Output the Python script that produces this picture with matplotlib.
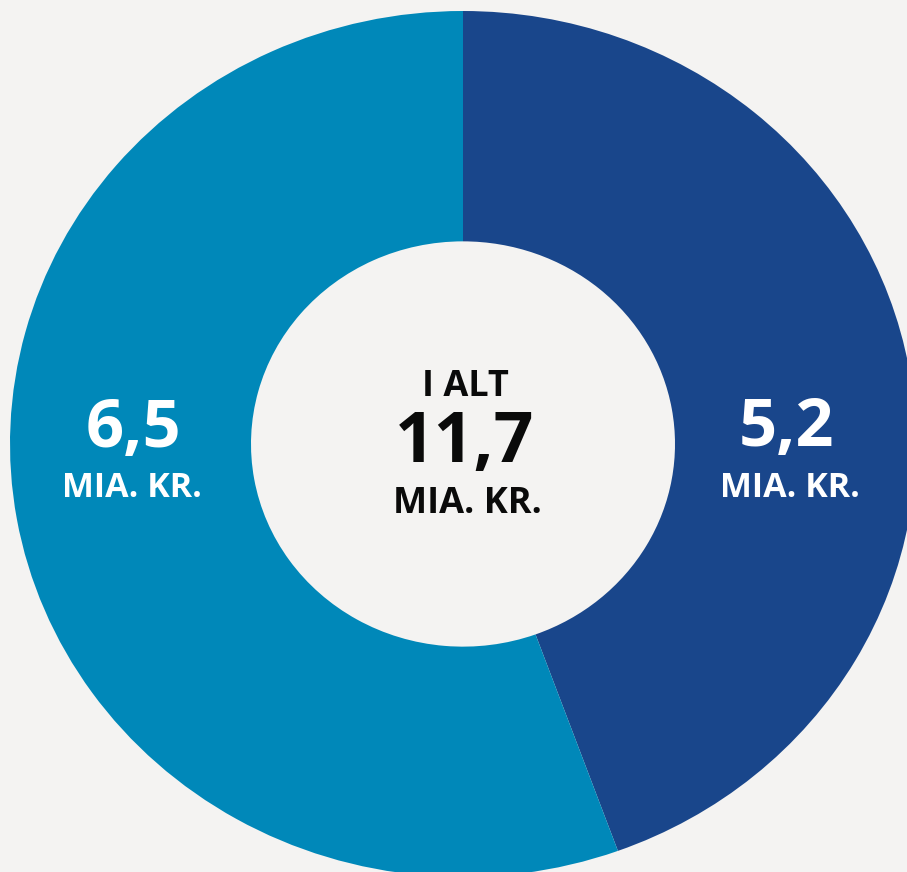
import matplotlib
matplotlib.use("Agg")
import matplotlib.pyplot as plt

# Data
categories = ["Del A", "Del B"]
values = [5.2, 6.5]
value_labels = ["5,2", "6,5"]
unit_label = "MIA. KR."
total_title = "I ALT"
total_label = "11,7"

colors = ["#19468B", "#0088B9"]
bg = "#F4F3F2"

W, H = 907, 872
fig = plt.figure(figsize=(W / 100, H / 100), dpi=100, facecolor=bg)
ax = fig.add_axes([0, 0, 1, 1])
ax.set_facecolor(bg)

ax.pie(values, colors=colors, startangle=90, counterclock=False,
       wedgeprops=dict(width=0.532, linewidth=0))

# layout: outer radius 453 px horizontally, 433 px vertically, centre at (463, 444)
cx, cy, rx, ry = 463, 444, 453, 433
ax.set_aspect("auto")
ax.set_xlim((0 - cx) / rx, (W - cx) / rx)
ax.set_ylim((cy - H) / ry, (cy - 0) / ry)
ax.axis("off")

def px(x):
    return (x - cx) / rx

def py(y):
    return (cy - y) / ry

font = "Open Sans"
# segment labels
ax.text(px(786), py(446), value_labels[0], color="white", fontsize=48,
        fontweight="bold", family=font, ha="center", va="baseline")
ax.text(px(790), py(497), unit_label, color="white", fontsize=24.5,
        fontweight="bold", family=font, ha="center", va="baseline")
ax.text(px(133), py(447), value_labels[1], color="white", fontsize=48,
        fontweight="bold", family=font, ha="center", va="baseline")
ax.text(px(132), py(497), unit_label, color="white", fontsize=24.5,
        fontweight="bold", family=font, ha="center", va="baseline")

# centre
ax.text(px(465), py(396), total_title, color="#0A0A0A", fontsize=26,
        fontweight="bold", family=font, ha="center", va="baseline")
ax.text(px(465), py(462), total_label, color="#0A0A0A", fontsize=50,
        fontweight="bold", family=font, ha="center", va="baseline")
ax.text(px(467), py(513), unit_label, color="#0A0A0A", fontsize=26,
        fontweight="bold", family=font, ha="center", va="baseline")

fig.savefig("out.png", dpi=100, facecolor=bg)
